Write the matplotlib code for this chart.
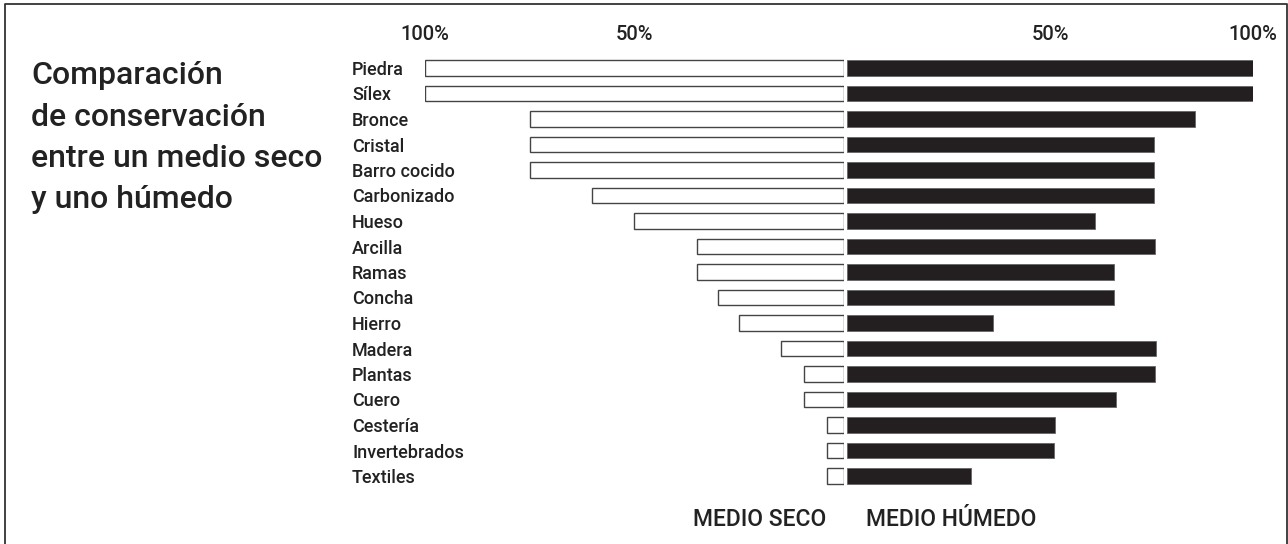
import numpy as np
import matplotlib.pyplot as plt
from matplotlib.lines import Line2D

plt.rcParams['font.family'] = ['Roboto', 'DejaVu Sans']
plt.rcParams['font.weight'] = 'medium'

# datos (% de conservacion)
materiales = ['Piedra', 'Sílex', 'Bronce', 'Cristal', 'Barro cocido', 'Carbonizado',
              'Hueso', 'Arcilla', 'Ramas', 'Concha', 'Hierro', 'Madera', 'Plantas',
              'Cuero', 'Cestería', 'Invertebrados', 'Textiles']
seco = [100, 100, 75, 75, 75, 60, 50, 35, 35, 30, 25, 15, 9.5, 9.5, 4, 4, 4]
humedo = [100, 100, 85.6, 75.6, 75.6, 75.6, 61, 75.8, 65.7, 65.7, 36, 76, 75.8,
          66.2, 51.2, 51, 30.6]
ticks = [100, 50]
tick_labels = ['100%', '50%']
titulo = ['Comparación', 'de conservación', 'entre un medio seco', 'y uno húmedo']

W, H = 1288, 544
fig = plt.figure(figsize=(W / 100, H / 100), dpi=100)

def rect(x0, x1, ytop, ybot):
    return [x0 / W, 1 - ybot / H, (x1 - x0) / W, (ybot - ytop) / H]

ytop, ybot = 55.25, 488.75
ax_l = fig.add_axes(rect(425, 843.5, ytop, ybot))
ax_r = fig.add_axes(rect(847, 1253.3, ytop, ybot))

y = np.arange(len(materiales))
ax_l.barh(y, seco, height=0.61, color='white', edgecolor='#444444', linewidth=1.0)
ax_r.barh(y, humedo, height=0.61, color='#231f20', edgecolor='#666666', linewidth=0.6)

ax_l.set_xlim(100, 0)
ax_r.set_xlim(0, 100)
for ax in (ax_l, ax_r):
    ax.set_ylim(len(materiales) - 0.5, -0.5)
    for s in ax.spines.values():
        s.set_visible(False)
    ax.xaxis.tick_top()
    ax.set_xticks(ticks)
    ax.set_xticklabels(tick_labels, fontsize=14.5, color='#222222')
    ax.tick_params(axis='x', length=0, pad=8)

ax_l.set_yticks(y)
ax_l.set_yticklabels(materiales, fontsize=13, color='#222222')
ax_l.tick_params(axis='y', length=0, pad=52.5)
for lab in ax_l.get_yticklabels():
    lab.set_horizontalalignment('left')
ax_r.set_yticks([])

# titulo
for i, linea in enumerate(titulo):
    fig.text(31 / W, 1 - (84 + i * 41.5) / H, linea, fontsize=23,
             color='#222222', va='baseline', ha='left')

fig.text(826.7 / W, 1 - 519 / H, 'MEDIO SECO', fontsize=16.5, color='#222222',
         ha='right', va='center')
fig.text(866 / W, 1 - 519 / H, 'MEDIO HÚMEDO', fontsize=16.5, color='#222222',
         ha='left', va='center')

# marco
fig.add_artist(Line2D([4.5 / W, 4.5 / W, 1286.5 / W, 1286.5 / W],
                      [0, 1 - 4 / H, 1 - 4 / H, 0],
                      transform=fig.transFigure, color='#333333', lw=1.3))

fig.savefig('out.png', dpi=100)
